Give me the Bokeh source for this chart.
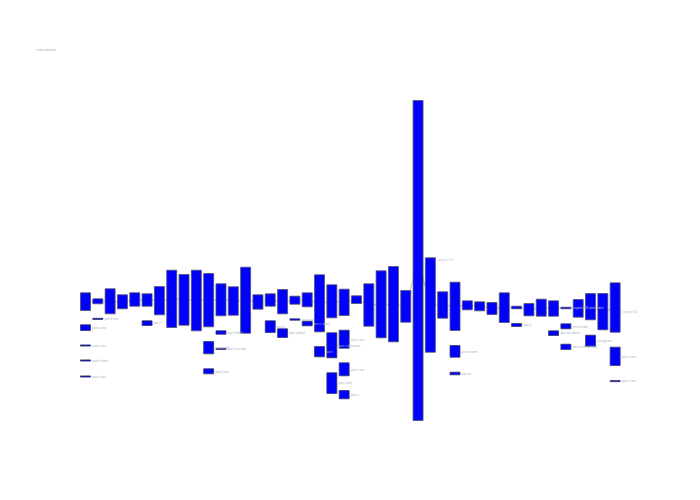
from bokeh.plotting import figure
from bokeh.models import ColumnDataSource, Range1d
from bokeh.embed import file_html
from bokeh.resources import INLINE

# chart values (vertical positions in chart units, top = small)
title = "chart overview"
cols = list(range(44))
bar_top = [292.3, 298.3, 288.3, 294.3, 292.3, 293.3, 286, 269.7, 274, 269.7, 273,
           283.3, 286.3, 266.7, 294.3, 293.3, 289, 295.7, 292.3, 274.3, 284.3, 288.7,
           295.3, 283.3, 270.3, 266, 290, 100, 257.3, 291.3, 281.7, 300.3, 301.3, 302,
           292.3, 305.7, 303, 298.7, 300.3, 306.7, 299, 293, 293, 282.3]
bar_bottom = [310, 303.3, 313.3, 308.3, 305.7, 305.7, 314.3, 327, 324.7, 330.3, 326.3,
              315.3, 314.7, 332.7, 308.7, 305.7, 313.3, 303.7, 306.3, 331.3, 317.3, 315,
              303, 325.7, 337.3, 341.3, 321.7, 420, 351.7, 317.7, 330, 309.3, 310.3, 314,
              322, 308.3, 315.3, 315.7, 315.7, 308.3, 316.7, 319.3, 329.3, 331.7]

bar_label_col = [28, 39, 43]
bar_label_y = [259, 307.5, 311]
bar_label = ["segment 29", "segment 40 detail label", "segment 44"]

sub_col = [0, 0, 0, 0, 1, 5, 10, 10, 11, 11, 15, 16, 17, 18, 19, 20, 20, 21, 21, 21,
           30, 30, 35, 38, 39, 39, 41, 43, 43]
sub_top = [324.3, 344.4, 359.4, 375.4, 317.8, 320.3, 341, 368.3, 330.3, 347.8, 320.3,
           328.3, 318.3, 320.7, 346, 332.3, 372.3, 329.7, 362.3, 390, 345, 371.7, 323,
           330.3, 323.3, 343.7, 334.7, 346.7, 380]
sub_bottom = [330, 345.6, 360.6, 376.6, 319, 325, 353.3, 373.3, 333.7, 349, 332, 337,
              319.7, 325.3, 356.3, 357.3, 393, 347.7, 375.3, 398.3, 356.7, 374.3, 326,
              335, 328.3, 349, 345.7, 365, 381.2]
sub_label = ["part a one", "part a two", "part a three", "part a four", "part b one",
             "part f", "part k one", "part k two", "part l detail", "part l one two",
             "part p", "part q detail", "part r one", "part s detail", "part t",
             "part u detail one", "part u two", "part v one", "part v two", "part v",
             "part ee one", "part ee", "part jj", "part mm detail", "part nn one",
             "part nn detail label", "part pp two", "part rr one", "part rr two"]

bar_w = 0.81

p = figure(width=684, height=484, output_backend="svg", toolbar_location=None,
           x_range=Range1d(-6.9, 48.63), y_range=Range1d(484, 0),
           min_border=0)
p.axis.visible = False
p.grid.visible = False
p.outline_line_color = None

mid = [(a + b) / 2 for a, b in zip(bar_top, bar_bottom)]
p.line(cols, mid, line_color="#9a9a9a", line_alpha=0.6, line_width=1)

main = ColumnDataSource(dict(x=cols, top=bar_top, bottom=bar_bottom))
p.vbar(x="x", top="top", bottom="bottom", width=bar_w, source=main,
       fill_color="#0000ff", line_color="#50506e", line_alpha=0.8, line_width=1)

sub = ColumnDataSource(dict(x=sub_col, top=sub_top, bottom=sub_bottom,
                            ymid=[(a + b) / 2 for a, b in zip(sub_top, sub_bottom)],
                            lx=[c + bar_w / 2 + 0.15 for c in sub_col], label=sub_label))
p.vbar(x="x", top="top", bottom="bottom", width=bar_w, source=sub,
       fill_color="#0000ff", line_color="#3a3a66", line_alpha=0.8, line_width=1)
p.text(x="lx", y="ymid", text="label", source=sub, text_font_size="3px",
       text_color="#a4aec4", text_baseline="middle")

p.text(x=[c + bar_w / 2 + 0.15 for c in bar_label_col], y=bar_label_y, text=bar_label,
       text_font_size="3px", text_color="#b8c0d2", text_baseline="middle")

p.text(x=[-4.0], y=[49.5], text=[title], text_font_size="3px",
       text_color="#a4a4b0", text_baseline="middle")

open("out.html", "w").write(file_html(p, INLINE))
